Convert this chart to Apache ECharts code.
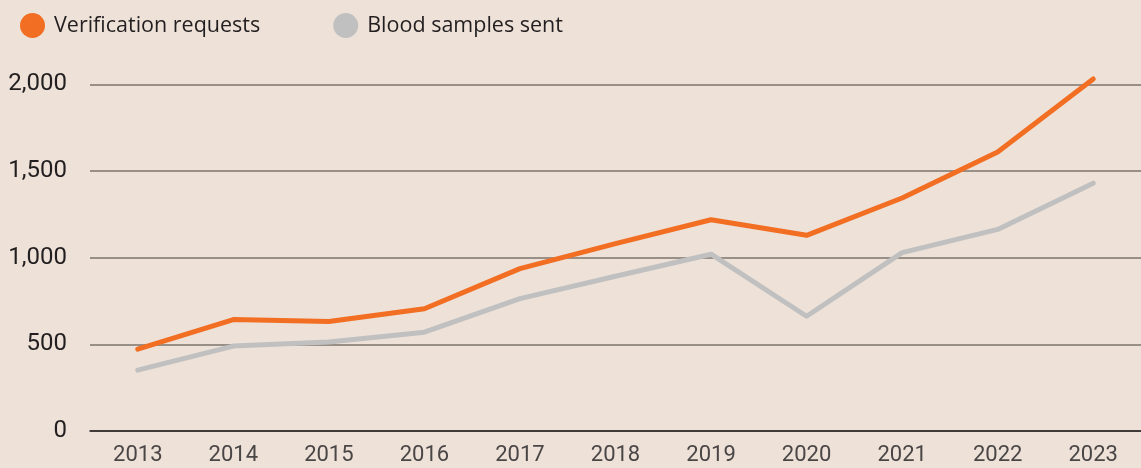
<!DOCTYPE html>
<html>
<head>
<meta charset="utf-8">
<script src="https://cdn.jsdelivr.net/npm/echarts@6/dist/echarts.min.js"></script>
<style>
  html, body { margin: 0; padding: 0; background: #ede1d8; }
  #chart { width: 1141px; height: 468px; }
</style>
</head>
<body>
<div id="chart"></div>
<script>
const years = ['2013', '2014', '2015', '2016', '2017', '2018', '2019', '2020', '2021', '2022', '2023']
const verificationRequests = [472, 643, 632, 705, 937, 1081, 1219, 1129, 1344, 1609, 2031]
const bloodSamplesSent = [351, 490, 513, 570, 764, 893, 1020, 662, 1029, 1163, 1430]
const yTicks = [0, 500, 1000, 1500, 2000]

const myChart = echarts.init(document.getElementById('chart'))

// axis runs a bit past the last tick so the 2023 point isn't clipped
const yTop = 2100

const option = {
  backgroundColor: '#ede1d8',
  color: ['#f26e22', '#c0c0c0'],
  legend: {
    left: 15,
    top: 8,
    icon: 'circle',
    itemWidth: 25,
    itemHeight: 25,
    itemGap: 73,
    textStyle: {
      fontFamily: 'Open Sans',
      fontSize: 21.5,
      color: '#231f20',
      padding: [0, 0, 0, 4],
    },
    data: ['Verification requests', 'Blood samples sent'],
  },
  grid: {
    left: 90,
    right: 0,
    top: 67,
    bottom: 37,
    containLabel: false,
  },
  xAxis: {
    type: 'category',
    boundaryGap: true,
    data: years,
    axisLine: { lineStyle: { color: '#231f20', width: 1.5 } },
    axisTick: { show: false },
    axisLabel: {
      margin: 13,
      fontFamily: 'Roboto',
      fontSize: 22,
      color: '#4a4646',
    },
  },
  yAxis: {
    type: 'value',
    min: yTicks[0],
    max: yTop,
    interval: 500,
    axisLine: { show: false },
    axisTick: { show: false },
    splitLine: { showMaxLine: false, lineStyle: { color: '#7b736d', width: 1.5 } },
    axisLabel: {
      margin: 23,
      showMaxLabel: false,
      fontFamily: 'Roboto',
      fontSize: 24,
      color: '#231f20',
      formatter: v => (yTicks.includes(v) ? v.toLocaleString('en-US') : ''),
    },
  },
  series: [
    {
      name: 'Verification requests',
      type: 'line',
      data: verificationRequests,
      showSymbol: false,
      z: 3,
      lineStyle: { width: 5, cap: 'round', join: 'round' },
    },
    {
      name: 'Blood samples sent',
      type: 'line',
      data: bloodSamplesSent,
      showSymbol: false,
      z: 2,
      lineStyle: { width: 5, cap: 'round', join: 'round' },
    },
  ],
}

myChart.setOption(option)
window.onresize = () => {
  myChart.resize()
}
</script>
</body>
</html>
